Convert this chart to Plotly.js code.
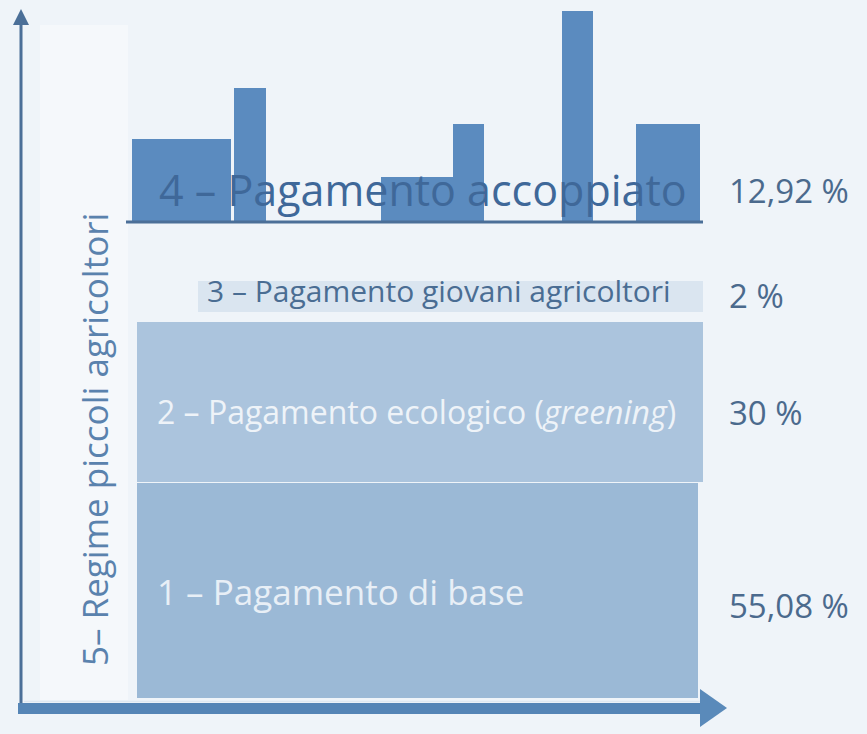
<!DOCTYPE html>
<html>
<head>
<meta charset="utf-8">
<script src="https://cdn.plot.ly/plotly-3.0.1.min.js"></script>
<style>html,body{margin:0;padding:0;background:#eff4f9;}#chart{width:867px;height:734px;}</style>
</head>
<body>
<div id="chart"></div>
<script>
// ---- data ----
var components = ["1 – Pagamento di base", "2 – Pagamento ecologico (<i>greening</i>)", "3 – Pagamento giovani agricoltori", "4 – Pagamento accoppiato"];
var shares = [55.08, 30, 2, 12.92];
var shareLabels = ["55,08 %", "30 %", "2 %", "12,92 %"];
var sideLabel = "5– Regime piccoli agricoltori";
// decorative bars of the coupled payment (heights, px above baseline)
var coupledHeights = [83, 134, 45, 98, 211, 98];

// ---- layout geometry (pixel frame, y grows downward) ----
var blockLeft  = [137, 137, 198];
var blockRight = [698, 703, 703];
var blockTop   = [483, 322, 281];
var blockBot   = [698, 482, 312];
var blockColor = ["#9bb9d6", "#abc4dd", "#dae5f0"];
var coupledLeft  = [132, 234, 381, 453, 562, 636];
var coupledRight = [231, 266, 453, 484, 593, 700];
var coupledBase = 222;

var traces = [];
for (var i = 0; i < 3; i++) {
  traces.push({
    type: "bar", orientation: "v",
    x: [(blockLeft[i] + blockRight[i]) / 2], width: [blockRight[i] - blockLeft[i]],
    base: [blockTop[i]], y: [blockBot[i] - blockTop[i]],
    marker: {color: blockColor[i], line: {width: 0}},
    hoverinfo: "skip", showlegend: false, name: components[i]
  });
}
var cx = [], cw = [], cb = [];
for (var j = 0; j < coupledHeights.length; j++) {
  cx.push((coupledLeft[j] + coupledRight[j]) / 2);
  cw.push(coupledRight[j] - coupledLeft[j]);
  cb.push(coupledBase - coupledHeights[j]);
}
traces.push({
  type: "bar", x: cx, width: cw, base: cb, y: coupledHeights,
  marker: {color: "#5b8bbf", line: {width: 0}},
  hoverinfo: "skip", showlegend: false, name: components[3]
});

var shapes = [
  // pale left strip
  {type: "rect", xref: "x", yref: "y", x0: 40, x1: 128, y0: 25, y1: 700, fillcolor: "#f5f8fb", line: {width: 0}, layer: "below"},
  // vertical axis line + arrowhead
  {type: "line", xref: "x", yref: "y", x0: 21, x1: 21, y0: 705, y1: 24, line: {color: "#4b6f98", width: 3}},
  {type: "path", xref: "x", yref: "y", path: "M 13 25 L 21 9 L 29 25 Z", fillcolor: "#4b6f98", line: {width: 0}},
  // baseline of block 4
  {type: "line", xref: "x", yref: "y", x0: 126, x1: 703, y0: 222, y1: 222, line: {color: "#4b6f98", width: 3}},
  // bottom arrow band + head
  {type: "rect", xref: "x", yref: "y", x0: 18, x1: 702, y0: 703, y1: 714, fillcolor: "#5585b6", line: {width: 0}},
  {type: "line", xref: "x", yref: "y", x0: 24, x1: 700, y0: 701.5, y1: 701.5, line: {color: "#dfe8f1", width: 1.5}},
  {type: "path", xref: "x", yref: "y", path: "M 700 689 L 727 708 L 700 727 Z", fillcolor: "#5a8aba", line: {width: 0}}
];

var txtFont = "'Open Sans', sans-serif";
var annotations = [
  {x: 155, y: 591, text: components[0], font: {family: txtFont, size: 35, color: "#e8eff6"}},
  {x: 155, y: 411, text: components[1], font: {family: txtFont, size: 32, color: "#eef3f8"}},
  {x: 205, y: 290, text: components[2], font: {family: txtFont, size: 30, color: "#4a6d93"}},
  {x: 157, y: 189, text: components[3], font: {family: txtFont, size: 43, color: "#3f6899"}}
];
var pctY = [605, 412, 295, 190];
for (var k = 0; k < 4; k++) {
  annotations.push({x: 727, y: pctY[k], text: shareLabels[k], font: {family: txtFont, size: 33, color: "#4b6a8d"}});
}
annotations.forEach(function (a) { a.xref = "x"; a.yref = "y"; a.showarrow = false; a.xanchor = "left"; a.yanchor = "middle"; });
annotations.push({x: 94, y: 440, xref: "x", yref: "y", showarrow: false, text: sideLabel, textangle: -90,
  xanchor: "center", yanchor: "middle", font: {family: txtFont, size: 35, color: "#5a82ad"}});

var layout = {
  width: 867, height: 734,
  margin: {l: 0, r: 0, t: 0, b: 0},
  paper_bgcolor: "#eff4f9", plot_bgcolor: "#eff4f9",
  barmode: "overlay",
  xaxis: {range: [0, 867], visible: false, fixedrange: true},
  yaxis: {range: [734, 0], visible: false, fixedrange: true},
  shapes: shapes, annotations: annotations, showlegend: false
};
Plotly.newPlot("chart", traces, layout, {staticPlot: true, displayModeBar: false});
</script>
</body>
</html>
